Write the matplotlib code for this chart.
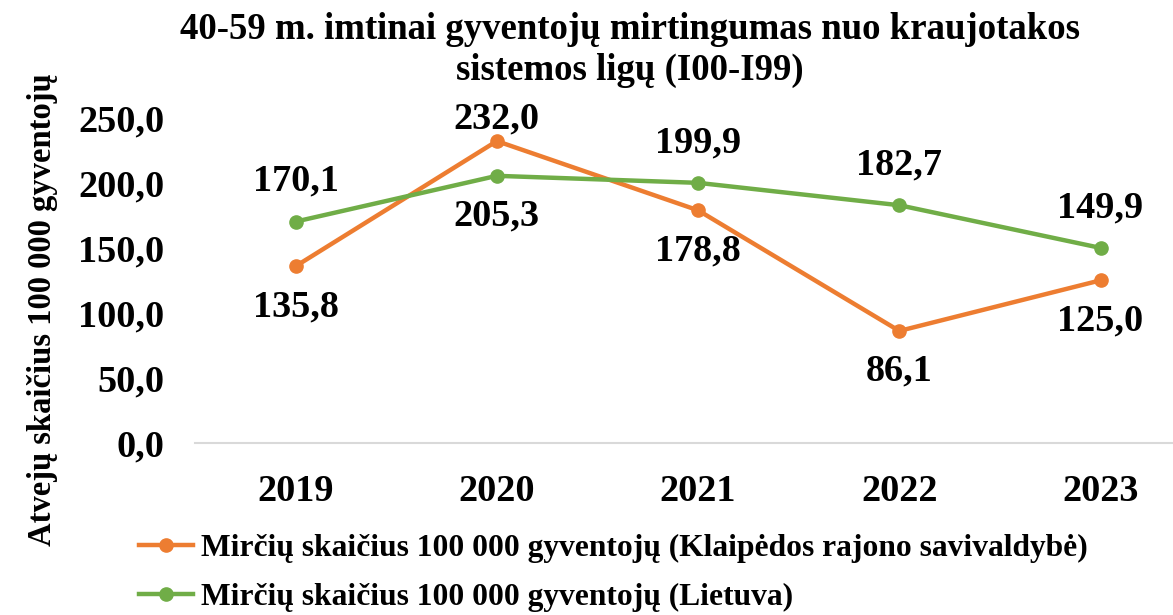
import matplotlib.pyplot as plt

years = ["2019", "2020", "2021", "2022", "2023"]
klaipeda = [135.8, 232.0, 178.8, 86.1, 125.0]
lietuva = [170.1, 205.3, 199.9, 182.7, 149.9]
# label placement per point: +1 above, -1 below
klaipeda_side = [-1, 1, -1, -1, -1]
lietuva_side = [1, -1, 1, 1, 1]

ORANGE = "#ED7D31"
GREEN = "#70AD47"

plt.rcParams["font.family"] = ["Liberation Serif", "DejaVu Serif"]
plt.rcParams["font.weight"] = "bold"

fig = plt.figure(figsize=(11.73, 6.15), dpi=100)
ax = fig.add_axes([0.1662, 0.2797, 0.8338, 0.529])

x = range(len(years))
ax.plot(x, klaipeda, color=ORANGE, lw=3.2, marker="o", ms=9.5,
        label="Mirčių skaičius 100 000 gyventojų (Klaipėdos rajono savivaldybė)")
ax.plot(x, lietuva, color=GREEN, lw=3.2, marker="o", ms=9.5,
        label="Mirčių skaičius 100 000 gyventojų (Lietuva)")

for vals, sides in ((klaipeda, klaipeda_side), (lietuva, lietuva_side)):
    for i, (v, s) in enumerate(zip(vals, sides)):
        off = 29 * s
        # keep labels near the top inside the plot area
        if s > 0 and v > 220:
            off = 16
        ax.annotate(f"{v:.1f}".replace(".", ","), (i, v), xytext=(0, off),
                    textcoords="offset points", ha="center", va="center",
                    fontsize=27.5, fontweight="bold")

ax.set_xlim(-0.5, 4.36)
ax.set_ylim(0, 250)
ax.set_yticks(range(0, 251, 50))
ax.set_yticklabels([f"{t},0" for t in range(0, 251, 50)])
ax.set_xticks(list(x))
ax.set_xticklabels(years)
ax.tick_params(length=0, labelsize=27.5)
ax.tick_params(axis="x", pad=22)
ax.tick_params(axis="y", pad=22)
for side in ("top", "right", "left"):
    ax.spines[side].set_visible(False)
ax.spines["bottom"].set_color("#d9d9d9")
ax.spines["bottom"].set_linewidth(1.5)

fig.text(0.537, 0.918, "40-59 m. imtinai gyventojų mirtingumas nuo kraujotakos\nsistemos ligų (I00-I99)",
         ha="center", va="center", fontsize=26.5, fontweight="bold", linespacing=1.22)
fig.text(0.036, 0.497, "Atvejų skaičius 100 000 gyventojų", rotation=90,
         ha="center", va="center", fontsize=23.5, fontweight="bold")

fig.legend(loc="upper left", bbox_to_anchor=(0.108, 0.152), frameon=False,
           fontsize=22.7, handlelength=1.7, handletextpad=0.25, labelspacing=0.62,
           borderaxespad=0)

fig.savefig("out.png", dpi=100)
